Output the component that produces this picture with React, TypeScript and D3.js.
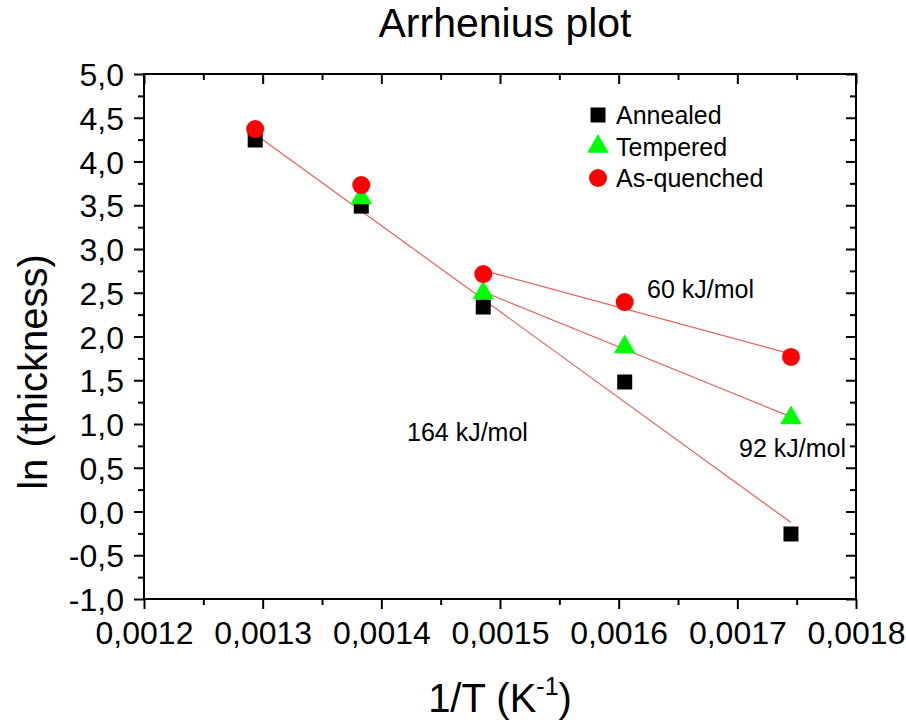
import React, { useEffect, useRef } from 'react';
import * as d3 from 'd3';

// 1/T values (K^-1) for 773, 723, 673, 623, 573 K
const invT = [0.0012937, 0.0013831, 0.0014859, 0.0016051, 0.0017452];

const annealed = [4.246, 3.49, 2.337, 1.48, -0.257];
const tempered = [null, 3.583, 2.497, 1.88, 1.069];
const asQuenched = [4.371, 3.731, 2.714, 2.394, 1.766];

const xTicks = [0.0012, 0.0013, 0.0014, 0.0015, 0.0016, 0.0017, 0.0018];
const yTicks = [-1, -0.5, 0, 0.5, 1, 1.5, 2, 2.5, 3, 3.5, 4, 4.5, 5];

const legendLabels = ['Annealed', 'Tempered', 'As-quenched'];
const energyLabels = ['164 kJ/mol', '92 kJ/mol', '60 kJ/mol'];

const FONT = 'Liberation Sans, Arial, sans-serif';

// least squares line through the given points
const fit = (xs: number[], ys: number[]) => {
  const mx = d3.mean(xs) as number;
  const my = d3.mean(ys) as number;
  const sxy = d3.sum(xs, (x, i) => (x - mx) * (ys[i] - my));
  const sxx = d3.sum(xs, x => (x - mx) * (x - mx));
  const b = sxy / sxx;
  return (x: number) => my + b * (x - mx);
};

const App = () => {
  const svgRef = useRef<SVGSVGElement>(null);

  useEffect(() => {
    const width = 906, height = 720;
    const margin = { top: 74, right: 50, bottom: 121, left: 144 };
    const w = width - margin.left - margin.right;
    const h = height - margin.top - margin.bottom;

    const root = d3.select(svgRef.current)
      .attr('width', width)
      .attr('height', height);
    root.selectAll('*').remove();

    root.append('rect').attr('width', width).attr('height', height).attr('fill', 'white');

    const svg = root.append('g')
      .attr('transform', `translate(${margin.left},${margin.top})`);

    const x = d3.scaleLinear().domain([0.0012, 0.0018]).range([0, w]);
    const y = d3.scaleLinear().domain([-1, 5]).range([h, 0]);

    const xMinor = d3.range(0.00125, 0.0018, 0.0001);
    const yMinor = d3.range(-0.75, 5, 0.5);

    const styleAxis = (g, labels = true) => {
      g.select('.domain').remove();
      g.selectAll('.tick line').attr('stroke', '#000').attr('stroke-width', 2);
      if (labels) {
        g.selectAll('text')
          .style('font-family', FONT)
          .style('font-size', '32px')
          .style('fill', '#000');
      }
    };

    // bottom axis (ticks outward)
    const bottom = svg.append('g').attr('transform', `translate(0,${h})`)
      .call(d3.axisBottom(x).tickValues(xTicks).tickSize(10).tickPadding(12)
        .tickFormat(d => (+d).toFixed(4).replace('.', ',')));
    styleAxis(bottom);
    svg.append('g').attr('transform', `translate(0,${h})`)
      .call(d3.axisBottom(x).tickValues(xMinor).tickSize(6).tickFormat(() => ''))
      .call(g => styleAxis(g, false));

    // left axis (ticks outward)
    const left = svg.append('g')
      .call(d3.axisLeft(y).tickValues(yTicks).tickSize(10).tickPadding(10)
        .tickFormat(d => (+d).toFixed(1).replace('.', ',')));
    styleAxis(left);
    left.selectAll('text').attr('dy', '0.36em');
    svg.append('g')
      .call(d3.axisLeft(y).tickValues(yMinor).tickSize(6).tickFormat(() => ''))
      .call(g => styleAxis(g, false));

    // top and right axes (ticks inward)
    svg.append('g')
      .call(d3.axisBottom(x).tickValues(xTicks).tickSize(10).tickFormat(() => ''))
      .call(g => styleAxis(g, false));
    svg.append('g')
      .call(d3.axisBottom(x).tickValues(xMinor).tickSize(6).tickFormat(() => ''))
      .call(g => styleAxis(g, false));
    svg.append('g').attr('transform', `translate(${w},0)`)
      .call(d3.axisLeft(y).tickValues(yTicks).tickSize(10).tickFormat(() => ''))
      .call(g => styleAxis(g, false));
    svg.append('g').attr('transform', `translate(${w},0)`)
      .call(d3.axisLeft(y).tickValues(yMinor).tickSize(6).tickFormat(() => ''))
      .call(g => styleAxis(g, false));

    // frame
    svg.append('rect')
      .attr('width', w).attr('height', h)
      .attr('fill', 'none').attr('stroke', '#000').attr('stroke-width', 2);

    // fit lines
    const line = d3.line<number>().x(d => x(d[0])).y(d => y(d[1]));
    const fitSeries = [
      { xs: invT, ys: annealed },
      { xs: invT.slice(2), ys: tempered.slice(2) as number[] },
      { xs: invT.slice(2), ys: asQuenched.slice(2) },
    ];
    fitSeries.forEach(s => {
      const f = fit(s.xs, s.ys);
      const x0 = s.xs[0], x1 = s.xs[s.xs.length - 1];
      svg.append('path')
        .datum([[x0, f(x0)], [x1, f(x1)]])
        .attr('fill', 'none')
        .attr('stroke', '#e06060')
        .attr('stroke-width', 1.2)
        .attr('d', line);
    });

    const square = d3.symbol().type(d3.symbolSquare).size(15 * 15);
    const triangle = d3.symbol().type(d3.symbolTriangle).size(200);

    // annealed squares
    svg.selectAll('.ann').data(invT.map((t, i) => [t, annealed[i]]))
      .join('path')
      .attr('transform', d => `translate(${x(d[0])},${y(d[1])})`)
      .attr('d', square)
      .attr('fill', '#000');

    // tempered triangles
    svg.selectAll('.tmp').data(invT.map((t, i) => [t, tempered[i]]).filter(d => d[1] !== null))
      .join('path')
      .attr('transform', d => `translate(${x(d[0])},${y(d[1] as number)})`)
      .attr('d', triangle)
      .attr('fill', '#00ff00');

    // as-quenched circles
    svg.selectAll('.aq').data(invT.map((t, i) => [t, asQuenched[i]]))
      .join('circle')
      .attr('cx', d => x(d[0]))
      .attr('cy', d => y(d[1]))
      .attr('r', 9)
      .attr('fill', '#ff0000');

    // legend
    const legend = root.append('g').attr('transform', 'translate(598,115)');
    const markers = [
      g => g.append('path').attr('d', square).attr('fill', '#000'),
      g => g.append('path').attr('d', triangle).attr('fill', '#00ff00'),
      g => g.append('circle').attr('r', 9).attr('fill', '#ff0000'),
    ];
    legendLabels.forEach((lab, i) => {
      const row = legend.append('g').attr('transform', `translate(0,${i * 31.5})`);
      markers[i](row);
      row.append('text')
        .attr('x', 18).attr('y', 9)
        .style('font-family', FONT).style('font-size', '25px')
        .text(lab);
    });

    // energy annotations
    const ann = [
      { t: energyLabels[0], x: 407, y: 441 },
      { t: energyLabels[1], x: 739, y: 457 },
      { t: energyLabels[2], x: 647, y: 298 },
    ];
    ann.forEach(a => {
      root.append('text')
        .attr('x', a.x).attr('y', a.y)
        .style('font-family', FONT).style('font-size', '25px')
        .text(a.t);
    });

    // title and axis titles
    root.append('text')
      .attr('x', 505).attr('y', 37)
      .attr('text-anchor', 'middle')
      .style('font-family', FONT).style('font-size', '41px')
      .text('Arrhenius plot');

    const xt = root.append('text')
      .attr('x', margin.left + w / 2).attr('y', 712)
      .attr('text-anchor', 'middle')
      .style('font-family', FONT).style('font-size', '40px');
    xt.append('tspan').text('1/T (K');
    xt.append('tspan').attr('dy', -17).style('font-size', '25px').text('-1');
    xt.append('tspan').attr('dy', 17).text(')');

    root.append('text')
      .attr('transform', 'translate(47,372) rotate(-90)')
      .attr('text-anchor', 'middle')
      .style('font-family', FONT).style('font-size', '40px')
      .text('ln (thickness)');
  }, []);

  return (
    <svg ref={svgRef} style={{ position: 'absolute', left: 0, top: 0 }}></svg>
  );
};

export default App;
